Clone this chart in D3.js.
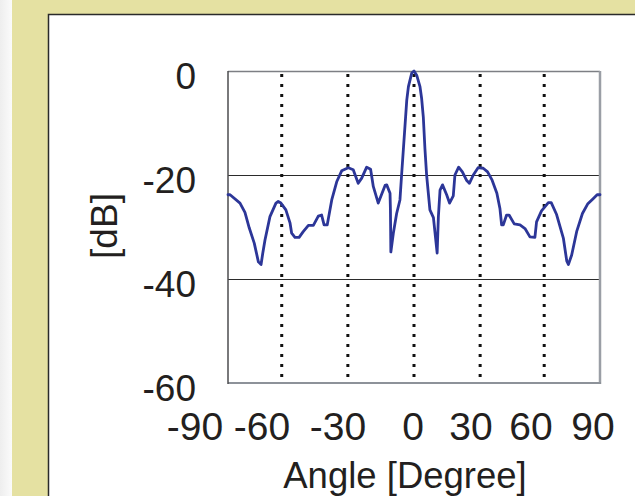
<!DOCTYPE html>
<html><head><meta charset="utf-8">
<script src="https://cdn.jsdelivr.net/npm/d3@7"></script>
<style>
html,body{margin:0;padding:0;background:#fff;}
svg{display:block;}
text{font-family:"Liberation Sans",Arial,sans-serif;fill:#231f20;}
</style></head>
<body><svg id="c" width="635" height="496"></svg>
<script>
// ---- data ----
const angles = [-90,-89,-84.2,-81.8,-79.7,-77.3,-75.3,-74,-73.2,-72.1,-69.7,-66.8,-65.7,-64.4,-62,-60,-59.2,-57.6,-55.6,-53.6,-51.1,-48.7,-46.3,-44.7,-43.5,-42,-39.8,-37.4,-35,-31.8,-29.4,-27,-25.3,-22.9,-21,-19.7,-17.3,-14,-13.2,-11.6,-11.4,-11.2,-10,-8.4,-6.8,-6,-3.5,-2.7,-1.1,0,1.3,2.9,3.7,4.5,5.3,6.1,7.7,9.4,11.2,11.8,12.6,13.8,15.8,17.2,19,19.8,21.6,23.4,25.4,26.8,28.7,31,33.5,35.6,37.8,40.1,41.6,42.4,43.2,44.8,46,48.5,51.3,53.7,56.1,58.5,59.3,61.7,65,66.4,69,72.3,73.9,74.7,76.3,78.7,81.5,84,86.8,88.6,90];
const dB = [-23.8,-23.8,-25.4,-27.2,-30.2,-33.1,-36.7,-37.2,-35.1,-32.5,-28,-25.4,-25.1,-25.4,-26.7,-29.2,-31.2,-32,-32,-30.9,-29.7,-29.7,-27.9,-27.7,-29.6,-29.6,-24.8,-21.3,-19.2,-18.6,-19,-21.6,-20.6,-18.5,-18.9,-22.2,-25.4,-22,-21.9,-23.5,-26.7,-34.8,-31.2,-27.4,-24.8,-20,-5.6,-3,-0.4,0,-0.8,-3,-5.3,-8.8,-15,-20,-26.7,-28.2,-35,-28,-22.9,-21.9,-23.8,-25.4,-24,-20,-18.5,-19.4,-21,-21.6,-20,-18.6,-18.7,-19.4,-21,-23.5,-26.5,-29.6,-29.6,-27.7,-27.7,-29.4,-29.6,-30.3,-31.9,-32,-29,-26.9,-25.3,-25.3,-27.6,-32.2,-36.5,-37.2,-35.4,-30.9,-27.4,-25.6,-24.5,-23.8,-23.8];
const markerAngles = [-64,-32,0,32,63];
const yTicks = [0,-20,-40,-60];
const yGrid = [-20,-40];
const xTickLabels = ["-90","-60","-30","0","30","60","90"];
const xTickValues = [-90,-60,-30,0,30,60,90];
const xTitle = "Angle [Degree]";
const yTitle = "[dB]";

// ---- layout ----
const svg = d3.select("#c");
const L = 228, R = 600, T = 71, B = 383;
const x = d3.scaleLinear().domain([-90,90]).range([L,R]);
const y = d3.scaleLinear().domain([0,-60]).range([T,B]);
// tick-label row (labels are laid out as a separate text row under the plot)
const xLab = d3.scaleLinear().domain(xTickValues).range([195,262,338,413,471,531,593]);

// background
const defs = svg.append("defs");
const g1 = defs.append("linearGradient").attr("id","strip").attr("x1","0").attr("x2","1");
g1.append("stop").attr("offset","0").attr("stop-color","#eeeeee");
g1.append("stop").attr("offset","1").attr("stop-color","#fbfbfb");
svg.append("rect").attr("x",0).attr("y",0).attr("width",635).attr("height",496).attr("fill","#e5e1a2");
svg.append("rect").attr("x",0).attr("y",0).attr("width",12).attr("height",496).attr("fill","url(#strip)");
svg.append("rect").attr("x",48.5).attr("y",14.5).attr("width",640).attr("height",500)
  .attr("fill","#fff").attr("stroke","#2a2a2a").attr("stroke-width",1.5);

// gridlines
svg.append("g").selectAll("line").data(yGrid).join("line")
  .attr("x1",L).attr("x2",R).attr("y1",d=>y(d)+0.5).attr("y2",d=>y(d)+0.5)
  .attr("stroke","#2b2b2b").attr("stroke-width",1.2);

// plot frame
svg.append("line").attr("x1",L).attr("x2",R).attr("y1",T+0.5).attr("y2",T+0.5).attr("stroke","#7d7f84").attr("stroke-width",1.5);
svg.append("line").attr("x1",R).attr("x2",R).attr("y1",T).attr("y2",B+1).attr("stroke","#9a9ea5").attr("stroke-width",2.5);
svg.append("line").attr("x1",L).attr("x2",R+1).attr("y1",B).attr("y2",B).attr("stroke","#8d9299").attr("stroke-width",2);
svg.append("line").attr("x1",L).attr("x2",L).attr("y1",T).attr("y2",B+1).attr("stroke","#4d4d4f").attr("stroke-width",1.5);

// dotted marker lines
svg.append("g").selectAll("line").data(markerAngles).join("line")
  .attr("x1",d=>x(d)).attr("x2",d=>x(d)).attr("y1",T+3).attr("y2",B-1)
  .attr("stroke","#111").attr("stroke-width",3).attr("stroke-dasharray","3 7");

// curve
const pts = angles.map((a,i)=>[a,dB[i]]);
svg.append("path").datum(pts)
  .attr("d", d3.line().x(d=>x(d[0])).y(d=>y(d[1])))
  .attr("fill","none").attr("stroke","#2c3698").attr("stroke-width",2.8)
  .attr("stroke-linejoin","round").attr("stroke-linecap","round");

// y tick labels
svg.append("g").selectAll("text").data(yTicks).join("text")
  .attr("x",196).attr("y",d=>y(d)+18).attr("text-anchor","end")
  .attr("font-size",37).text(d=>d);

// x tick labels
svg.append("g").selectAll("text").data(xTickValues).join("text")
  .attr("x",d=>xLab(d)).attr("y",440).attr("text-anchor","middle")
  .attr("font-size",39).text((d,i)=>xTickLabels[i]);

// titles
svg.append("text").attr("x",405).attr("y",488).attr("text-anchor","middle")
  .attr("font-size",36.5).text(xTitle);
svg.append("text").attr("transform","translate(117,226) rotate(-90)")
  .attr("text-anchor","middle").attr("font-size",37).text(yTitle);
</script></body></html>
